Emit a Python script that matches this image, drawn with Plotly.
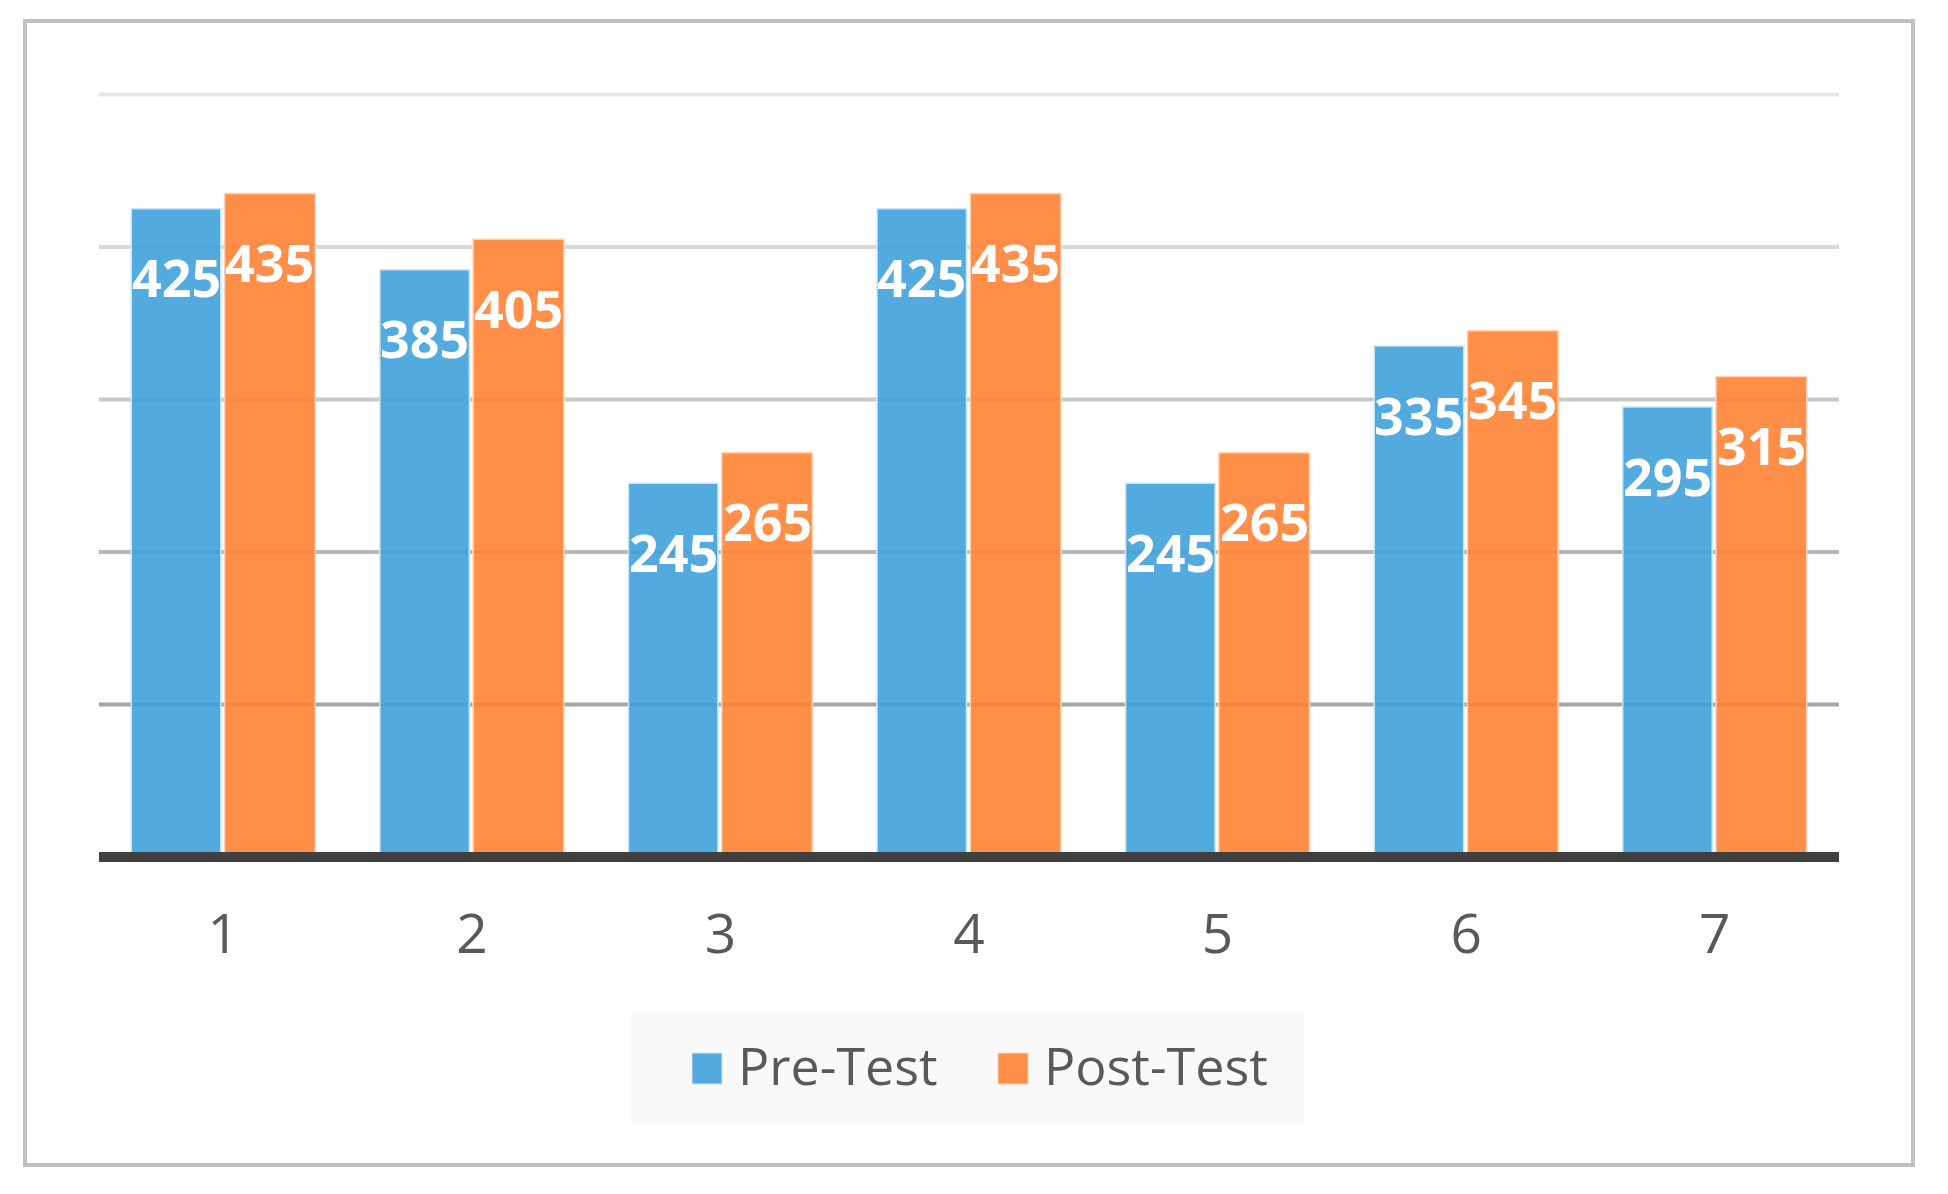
import plotly.graph_objects as go

# ---- data ----
categories = [1, 2, 3, 4, 5, 6, 7]
pre_test = [425, 385, 245, 425, 245, 335, 295]
post_test = [435, 405, 265, 435, 265, 345, 315]
series_names = ["Pre-Test", "Post-Test"]
grid_values = [100, 200, 300, 400, 500]

# ---- layout geometry (page pixels; page body has an 8px margin) ----
OFF = 8
W, H = 1948 - 2 * OFF, 1194 - 2 * OFF
L, R, T, B = 99 - OFF, 1839 - OFF, 64 - OFF, 862 - OFF
pw, ph = R - L, B - T


def px(x):
    return (x - OFF - L) / pw


def py(y):
    return (B - (y - OFF)) / ph


BLUE = "rgba(63,161,219,0.9)"
ORANGE = "rgba(255,131,52,0.9)"
BLUE_EDGE = "rgba(200,230,248,1)"
ORANGE_EDGE = "rgba(255,210,180,1)"
TEXT_GREY = "#595959"

blue_off, blue_w = -0.37, 0.36
orange_off, orange_w = 0.005, 0.365

fig = go.Figure()
fig.add_trace(go.Bar(
    x=categories, y=pre_test, name=series_names[0],
    offset=blue_off, width=blue_w,
    marker=dict(color=BLUE, line=dict(color=BLUE_EDGE, width=1.5)),
    showlegend=False, hoverinfo="x+y+name",
))
fig.add_trace(go.Bar(
    x=categories, y=post_test, name=series_names[1],
    offset=orange_off, width=orange_w,
    marker=dict(color=ORANGE, line=dict(color=ORANGE_EDGE, width=1.5)),
    showlegend=False, hoverinfo="x+y+name",
))

shapes = []
# gridlines (lighter toward top)
grid_colors = ["#a6a6a6", "#b7b7b7", "#c8c8c8", "#d9d9d9", "#e6e6e6"]
for gv, gc in zip(grid_values, grid_colors):
    shapes.append(dict(type="line", xref="paper", yref="y", x0=0, x1=1, y0=gv, y1=gv,
                       line=dict(color=gc, width=4), layer="below"))
# baseline
shapes.append(dict(type="line", xref="paper", yref="y", x0=0, x1=1, y0=0, y1=0,
                   line=dict(color="#404040", width=10), layer="above"))
# outer border
shapes.append(dict(type="rect", xref="paper", yref="paper",
                   x0=px(25), x1=px(1913), y0=py(1165), y1=py(21),
                   line=dict(color="#c0c0c0", width=4), fillcolor="rgba(0,0,0,0)", layer="below"))
# legend box
shapes.append(dict(type="rect", xref="paper", yref="paper",
                   x0=px(631), x1=px(1304), y0=py(1124), y1=py(1012),
                   line=dict(width=0), fillcolor="#f9f9f9", layer="below"))
# legend swatches
shapes.append(dict(type="rect", xref="paper", yref="paper",
                   x0=px(692), x1=px(722), y0=py(1084), y1=py(1053),
                   line=dict(color=BLUE_EDGE, width=1), fillcolor=BLUE))
shapes.append(dict(type="rect", xref="paper", yref="paper",
                   x0=px(998), x1=px(1028), y0=py(1084), y1=py(1053),
                   line=dict(color=ORANGE_EDGE, width=1), fillcolor=ORANGE))

annotations = []
label_font = dict(family="Open Sans", size=52, color="white")
for c, v in zip(categories, pre_test):
    annotations.append(dict(x=c + blue_off + blue_w / 2, y=v, xref="x", yref="y",
                            text=f"<b>{v}</b>", showarrow=False, yshift=-68,
                            font=label_font, xanchor="center", yanchor="middle"))
for c, v in zip(categories, post_test):
    annotations.append(dict(x=c + orange_off + orange_w / 2, y=v, xref="x", yref="y",
                            text=f"<b>{v}</b>", showarrow=False, yshift=-68,
                            font=label_font, xanchor="center", yanchor="middle"))
# legend texts
legend_font = dict(family="Open Sans", size=52, color=TEXT_GREY)
annotations.append(dict(x=px(736), y=py(1064), xref="paper", yref="paper", text=series_names[0],
                        showarrow=False, xanchor="left", yanchor="middle", font=legend_font))
annotations.append(dict(x=px(1042), y=py(1064), xref="paper", yref="paper", text=series_names[1],
                        showarrow=False, xanchor="left", yanchor="middle", font=legend_font))

fig.update_layout(
    width=W, height=H,
    margin=dict(l=L, r=W - R, t=T, b=H - B, pad=0),
    paper_bgcolor="white", plot_bgcolor="white",
    bargap=0.25,
    showlegend=False,
    shapes=shapes,
    annotations=annotations,
    xaxis=dict(range=[0.5, 7.5], tickvals=categories, ticktext=[str(c) for c in categories],
               showgrid=False, zeroline=False, showline=False,
               ticks="", ticklabelstandoff=35,
               tickfont=dict(family="Open Sans", size=55, color=TEXT_GREY)),
    yaxis=dict(range=[-3.3, 520], showgrid=False, zeroline=False, showline=False,
               showticklabels=False, ticks=""),
)

fig.write_html("out.html")
